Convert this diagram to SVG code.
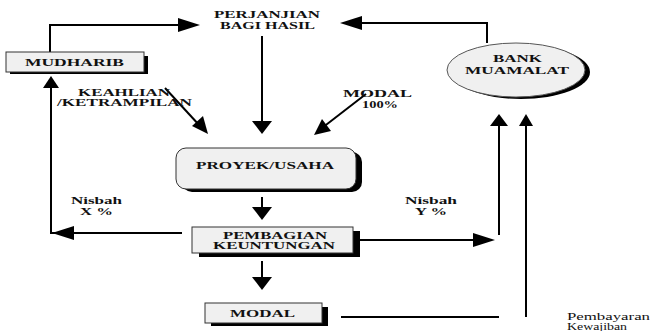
<svg xmlns="http://www.w3.org/2000/svg" width="650" height="331" viewBox="0 0 650 331">
<style>
.t{font-family:"Liberation Serif","Times New Roman",serif;font-weight:bold;font-size:10px;fill:#111;}
.n{font-family:"Liberation Serif","Times New Roman",serif;font-size:10px;fill:#111;}
.box{fill:#f0f0f0;stroke:#333;stroke-width:1;}
.sh{fill:#000;}
.ln{fill:none;stroke:#000;stroke-width:2;}
.ah{fill:#000;}
</style>
<rect width="650" height="331" fill="#fff"/>
<g id="connectors">
<polyline class="ln" points="50,52 50,25 180,25"/>
<polygon class="ah" points="200,25 178,18 178,32"/>
<polyline class="ln" points="487,43 487,23 360,23"/>
<polygon class="ah" points="340,23 362,16 362,30"/>
<line class="ln" x1="262" y1="36" x2="262" y2="124"/>
<polygon class="ah" points="262,134 252,121 272,121"/>
<line class="ln" x1="165" y1="88" x2="200" y2="126"/>
<polygon class="ah" points="208,134 192,126 203,116"/>
<line class="ln" x1="366" y1="94" x2="322" y2="128"/>
<polygon class="ah" points="314,135 322,119 331,131"/>
<line class="ln" x1="262" y1="197" x2="262" y2="210"/>
<polygon class="ah" points="262,220 252,207 272,207"/>
<line class="ln" x1="262" y1="261" x2="262" y2="280"/>
<polygon class="ah" points="262,290 252,277 272,277"/>
<polyline class="ln" points="182,233 51,233 51,86"/>
<polygon class="ah" points="52,233 74,226 74,240"/>
<polygon class="ah" points="51,76 43,88 59,88"/>
<line class="ln" x1="360" y1="240" x2="478" y2="240"/>
<polygon class="ah" points="495,240 473,233 473,247"/>
<line class="ln" x1="499" y1="235" x2="499" y2="124"/>
<polygon class="ah" points="499,114 490,126 508,126"/>
<line class="ln" x1="341" y1="317" x2="499" y2="317"/>
<line class="ln" x1="526" y1="317" x2="526" y2="124"/>
<polygon class="ah" points="526,114 519,126 533,126"/>
</g>
<g id="perjanjian">
<text class="t" x="214" y="18" textLength="106" lengthAdjust="spacingAndGlyphs">PERJANJIAN</text>
<text class="t" x="220" y="29" textLength="95" lengthAdjust="spacingAndGlyphs">BAGI HASIL</text>
</g>
<g id="mudharib">
<rect class="sh" x="10" y="56" width="138" height="18"/>
<rect class="box" x="6" y="52" width="138" height="20"/>
<text class="t" x="25" y="66" textLength="99" lengthAdjust="spacingAndGlyphs">MUDHARIB</text>
</g>
<g id="bank">
<ellipse class="sh" cx="521" cy="72" rx="69" ry="27"/>
<ellipse cx="516" cy="70" rx="69" ry="27" fill="#f0f0f0" stroke="#555" stroke-width="1"/>
<text class="t" x="493" y="62" textLength="49" lengthAdjust="spacingAndGlyphs">BANK</text>
<text class="t" x="465" y="74" textLength="104" lengthAdjust="spacingAndGlyphs">MUAMALAT</text>
</g>
<g id="keahlian">
<text class="t" x="78" y="96" textLength="92" lengthAdjust="spacingAndGlyphs">KEAHLIAN</text>
<text class="t" x="57" y="106" textLength="135" lengthAdjust="spacingAndGlyphs">/KETRAMPILAN</text>
</g>
<g id="modal100">
<text class="t" x="343" y="97" textLength="69" lengthAdjust="spacingAndGlyphs">MODAL</text>
<text class="t" x="362" y="108" textLength="36" lengthAdjust="spacingAndGlyphs">100%</text>
</g>
<g id="proyek">
<rect class="sh" x="182" y="152" width="180" height="40" rx="10"/>
<rect class="box" x="176" y="148" width="180" height="41" rx="10"/>
<text class="t" x="196" y="169" textLength="138" lengthAdjust="spacingAndGlyphs">PROYEK/USAHA</text>
</g>
<g id="pembagian">
<rect class="sh" x="199" y="231" width="161" height="26"/>
<rect class="box" x="192" y="227" width="161" height="26"/>
<text class="t" x="223" y="239" textLength="104" lengthAdjust="spacingAndGlyphs">PEMBAGIAN</text>
<text class="t" x="213" y="249" textLength="122" lengthAdjust="spacingAndGlyphs">KEUNTUNGAN</text>
</g>
<g id="modal">
<rect class="sh" x="211" y="307" width="117" height="19"/>
<rect class="box" x="205" y="303" width="117" height="20"/>
<text class="t" x="230" y="317" textLength="65" lengthAdjust="spacingAndGlyphs">MODAL</text>
</g>
<g id="nisbahx">
<text class="t" x="71" y="204" textLength="51" lengthAdjust="spacingAndGlyphs">Nisbah</text>
<text class="t" x="80" y="215" textLength="33" lengthAdjust="spacingAndGlyphs">X %</text>
</g>
<g id="nisbahy">
<text class="t" x="405" y="204" textLength="52" lengthAdjust="spacingAndGlyphs">Nisbah</text>
<text class="t" x="415" y="215" textLength="32" lengthAdjust="spacingAndGlyphs">Y %</text>
</g>
<g id="pembayaran">
<text class="n" x="567" y="320" textLength="83" lengthAdjust="spacingAndGlyphs">Pembayaran</text>
<text class="n" x="567" y="330" textLength="60" lengthAdjust="spacingAndGlyphs">Kewajiban</text>
</g>
</svg>
